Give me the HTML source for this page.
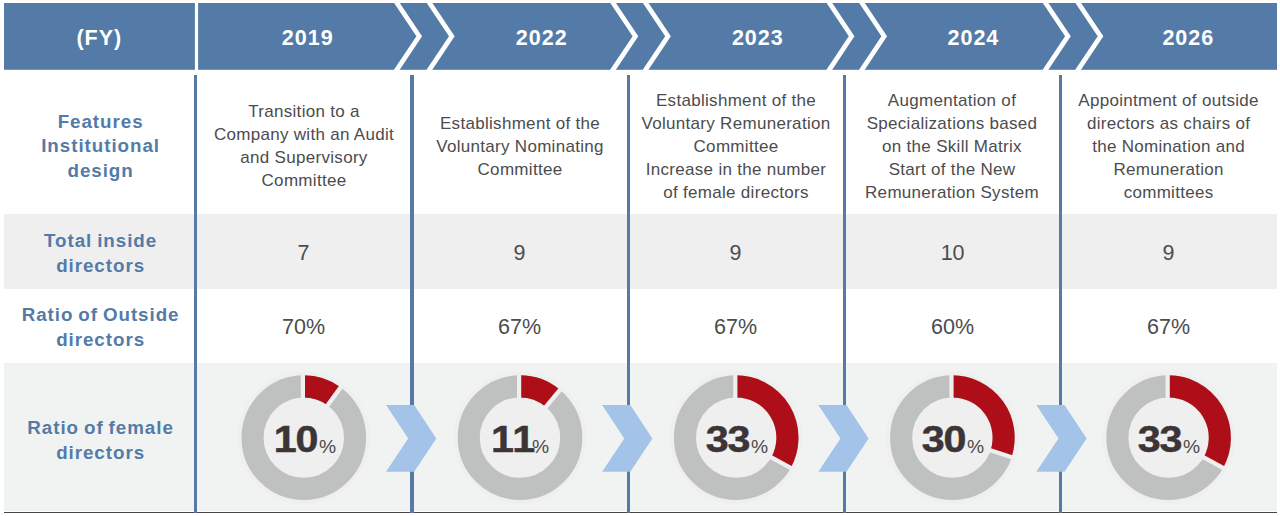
<!DOCTYPE html>
<html lang="en">
<head>
<meta charset="utf-8">
<title>Governance timeline</title>
<style>
html,body{margin:0;padding:0;background:#fff;}
body{width:1280px;height:516px;position:relative;overflow:hidden;font-family:"Liberation Sans",sans-serif;}
.abs{position:absolute;}
.band{position:absolute;left:4px;width:1273px;background:#efefef;}
.vline{position:absolute;top:75px;height:438px;width:3.8px;background:#547ba8;}
.lbl{position:absolute;left:5.6px;width:190px;text-align:center;color:#547ba8;font-weight:bold;font-size:18.8px;line-height:24.9px;letter-spacing:0.95px;word-spacing:-1.2px;white-space:nowrap;}
.hd{position:absolute;top:4px;height:66px;line-height:68px;text-align:center;color:#fff;font-weight:bold;font-size:21.5px;letter-spacing:1px;white-space:nowrap;}
.cell{position:absolute;width:216px;text-align:center;color:#4c4c4e;font-size:17px;letter-spacing:0.3px;line-height:23px;white-space:nowrap;}
.num{position:absolute;width:216px;text-align:center;color:#4c4c4e;font-size:21.5px;line-height:24px;white-space:nowrap;}
.pct{position:absolute;width:140px;text-align:center;color:#3b3536;white-space:nowrap;line-height:50px;transform:scaleX(1.1);transform-origin:50% 50%;}
.pct b{font-size:37.5px;font-weight:bold;letter-spacing:-1px;-webkit-text-stroke:0.5px #3b3536;}
.pct i{font-style:normal;font-size:17.5px;color:#4a4a4a;margin-left:1.5px;position:relative;top:1px;}
</style>
</head>
<body>

<!-- header bar with chevrons -->
<svg class="abs" style="left:0;top:0" width="1280" height="80" viewBox="0 0 1280 80">
  <rect x="4" y="3" width="1273" height="66.9" fill="#547ba8"/>
  <rect x="194.9" y="0" width="3.2" height="72" fill="#fff"/>
  <g fill="none" stroke="#fff" stroke-width="4.75" stroke-linejoin="miter" stroke-miterlimit="10">
    <polyline points="394.9,0 419.2,36.3 394.9,72.6"/>
    <polyline points="427.5,0 451.8,36.3 427.5,72.6"/>
    <polyline points="611.1,0 635.4,36.3 611.1,72.6"/>
    <polyline points="643.7,0 668.0,36.3 643.7,72.6"/>
    <polyline points="827.4,0 851.6,36.3 827.4,72.6"/>
    <polyline points="860.0,0 884.2,36.3 860.0,72.6"/>
    <polyline points="1043.6,0 1067.9,36.3 1043.6,72.6"/>
    <polyline points="1076.2,0 1100.5,36.3 1076.2,72.6"/>
  </g>
  <rect x="0" y="69.9" width="1280" height="11" fill="#fff"/>
  <rect x="0" y="0" width="1280" height="3" fill="#fff"/>
</svg>

<div class="hd" style="left:4.3px;width:190px;">(FY)</div>
<div class="hd" style="left:207.7px;width:200px;">2019</div>
<div class="hd" style="left:441.7px;width:200px;">2022</div>
<div class="hd" style="left:657.8px;width:200px;">2023</div>
<div class="hd" style="left:873.4px;width:200px;">2024</div>
<div class="hd" style="left:1088.3px;width:200px;">2026</div>

<!-- row bands -->
<div class="band" style="top:214px;height:75px;"></div>
<div class="band" style="top:363px;height:147.7px;background:#f1f3f2;"></div>
<div class="abs" style="left:4px;top:512px;width:1273px;height:1px;background:#4a4546;"></div>

<!-- vertical lines -->
<div class="vline" style="left:194.1px;width:2.9px;"></div>
<div class="vline" style="left:410.1px;"></div>
<div class="vline" style="left:627.1px;width:2.9px;"></div>
<div class="vline" style="left:843.1px;width:2.9px;"></div>
<div class="vline" style="left:1059.1px;width:2.9px;"></div>

<!-- row labels -->
<div class="lbl" style="top:109.5px;">Features<br>Institutional<br>design</div>
<div class="lbl" style="top:228.7px;">Total inside<br>directors</div>
<div class="lbl" style="top:302.6px;">Ratio of Outside<br>directors</div>
<div class="lbl" style="top:415.6px;">Ratio of female<br>directors</div>

<!-- features -->
<div class="cell" style="left:196px;top:100.2px;">Transition to a<br>Company with an Audit<br>and Supervisory<br>Committee</div>
<div class="cell" style="left:412px;top:111.7px;">Establishment of the<br>Voluntary Nominating<br>Committee</div>
<div class="cell" style="left:628px;top:88.7px;">Establishment of the<br>Voluntary Remuneration<br>Committee<br>Increase in the number<br>of female directors</div>
<div class="cell" style="left:844px;top:88.7px;">Augmentation of<br>Specializations based<br>on the Skill Matrix<br>Start of the New<br>Remuneration System</div>
<div class="cell" style="left:1060.6px;top:88.7px;">Appointment of outside<br>directors as chairs of<br>the Nomination and<br>Remuneration<br>committees</div>

<!-- totals -->
<div class="num" style="left:195.6px;top:240.7px;">7</div>
<div class="num" style="left:411.6px;top:240.7px;">9</div>
<div class="num" style="left:627.6px;top:240.7px;">9</div>
<div class="num" style="left:844.6px;top:240.7px;">10</div>
<div class="num" style="left:1060.6px;top:240.7px;">9</div>

<div class="num" style="left:195.6px;top:315.2px;">70%</div>
<div class="num" style="left:411.6px;top:315.2px;">67%</div>
<div class="num" style="left:627.6px;top:315.2px;">67%</div>
<div class="num" style="left:844.6px;top:315.2px;">60%</div>
<div class="num" style="left:1060.6px;top:315.2px;">67%</div>

<!-- donuts + arrows -->
<svg class="abs" style="left:0;top:363px" width="1280" height="149" viewBox="0 363 1280 149">
  <circle cx="303.8" cy="437.65" r="66.4" fill="#efefef"/>
  <circle cx="303.8" cy="437.65" r="51.25" fill="none" stroke="#bfc0c0" stroke-width="22.1"/>
  <path d="M303.8,386.40 A51.25,51.25 0 0 1 333.92,396.19" fill="none" stroke="#ae0e17" stroke-width="22.1"/>
  <line x1="302.90" y1="398.45" x2="302.90" y2="374.35" stroke="#efefef" stroke-width="4.2"/>
  <line x1="327.08" y1="406.11" x2="341.25" y2="386.62" stroke="#efefef" stroke-width="4.3"/>
  <circle cx="520.0" cy="437.65" r="66.4" fill="#efefef"/>
  <circle cx="520.0" cy="437.65" r="51.25" fill="none" stroke="#bfc0c0" stroke-width="22.1"/>
  <path d="M520.0,386.40 A51.25,51.25 0 0 1 552.67,398.16" fill="none" stroke="#ae0e17" stroke-width="22.1"/>
  <line x1="519.10" y1="398.45" x2="519.10" y2="374.35" stroke="#efefef" stroke-width="4.2"/>
  <line x1="545.22" y1="407.64" x2="560.58" y2="389.07" stroke="#efefef" stroke-width="4.3"/>
  <circle cx="736.2" cy="437.65" r="66.4" fill="#efefef"/>
  <circle cx="736.2" cy="437.65" r="51.25" fill="none" stroke="#bfc0c0" stroke-width="22.1"/>
  <path d="M736.2,386.40 A51.25,51.25 0 0 1 781.11,462.34" fill="none" stroke="#ae0e17" stroke-width="22.1"/>
  <line x1="735.30" y1="398.45" x2="735.30" y2="374.35" stroke="#efefef" stroke-width="4.2"/>
  <line x1="770.41" y1="456.80" x2="791.53" y2="468.41" stroke="#efefef" stroke-width="4.3"/>
  <circle cx="952.4" cy="437.65" r="66.4" fill="#efefef"/>
  <circle cx="952.4" cy="437.65" r="51.25" fill="none" stroke="#bfc0c0" stroke-width="22.1"/>
  <path d="M952.4,386.40 A51.25,51.25 0 0 1 1001.14,453.49" fill="none" stroke="#ae0e17" stroke-width="22.1"/>
  <line x1="951.50" y1="398.45" x2="951.50" y2="374.35" stroke="#efefef" stroke-width="4.2"/>
  <line x1="989.59" y1="450.05" x2="1012.51" y2="457.50" stroke="#efefef" stroke-width="4.3"/>
  <circle cx="1168.6" cy="437.65" r="66.4" fill="#efefef"/>
  <circle cx="1168.6" cy="437.65" r="51.25" fill="none" stroke="#bfc0c0" stroke-width="22.1"/>
  <path d="M1168.6,386.40 A51.25,51.25 0 0 1 1213.51,462.34" fill="none" stroke="#ae0e17" stroke-width="22.1"/>
  <line x1="1167.70" y1="398.45" x2="1167.70" y2="374.35" stroke="#efefef" stroke-width="4.2"/>
  <line x1="1202.81" y1="456.80" x2="1223.93" y2="468.41" stroke="#efefef" stroke-width="4.3"/>
  <g fill="#a3c3e8">
    <polygon points="386.0,405.0 414.2,405.0 436.3,438.4 414.2,471.7 386.0,471.7 408.2,438.4"/>
    <polygon points="602.1,405.0 630.3,405.0 652.4,438.4 630.3,471.7 602.1,471.7 624.3,438.4"/>
    <polygon points="818.3,405.0 846.5,405.0 868.6,438.4 846.5,471.7 818.3,471.7 840.5,438.4"/>
    <polygon points="1036.3,405.0 1064.5,405.0 1086.6,438.4 1064.5,471.7 1036.3,471.7 1058.5,438.4"/>
  </g>
</svg>

<!-- donut values -->
<div class="pct" style="left:234.8px;top:414px;"><b>10</b><i>%</i></div>
<div class="pct" style="left:450.35px;top:414px;"><b><u style="text-decoration:none;letter-spacing:-1.54px">1</u>1</b><i style="margin-left:-1.9px">%</i></div>
<div class="pct" style="left:666.9px;top:414px;"><b>33</b><i>%</i></div>
<div class="pct" style="left:883.0px;top:414px;"><b>30</b><i>%</i></div>
<div class="pct" style="left:1099.0px;top:414px;"><b>33</b><i>%</i></div>

</body>
</html>
